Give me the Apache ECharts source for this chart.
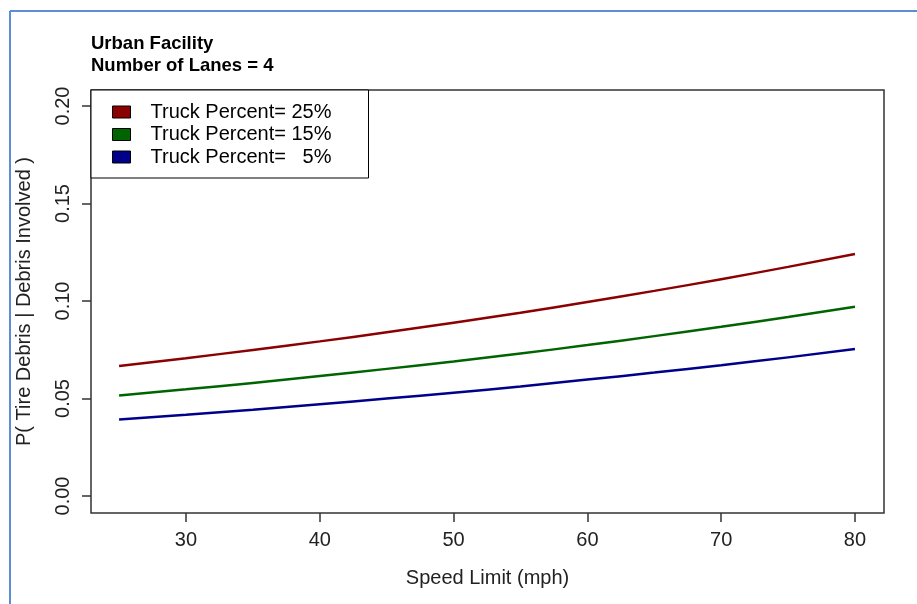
<!DOCTYPE html>
<html>
<head>
<meta charset="utf-8">
<script src="https://cdn.jsdelivr.net/npm/echarts@6/dist/echarts.min.js"></script>
<style>
html,body{margin:0;padding:0;background:#fff;}
#chart{width:917px;height:604px;}
</style>
</head>
<body>
<div id="chart"></div>
<script>
const speeds = [25, 30, 35, 40, 45, 50, 55, 60, 65, 70, 75, 80];
const truck25 = [0.0667, 0.0707, 0.0749, 0.0793, 0.0840, 0.0889, 0.0940, 0.0995, 0.1052, 0.1112, 0.1175, 0.1241];
const truck15 = [0.0516, 0.0547, 0.0580, 0.0615, 0.0652, 0.0690, 0.0731, 0.0774, 0.0820, 0.0868, 0.0918, 0.0971];
const truck5  = [0.0393, 0.0417, 0.0443, 0.0471, 0.0500, 0.0530, 0.0562, 0.0597, 0.0633, 0.0671, 0.0711, 0.0754];
const seriesNames = ['Truck Percent= 25%', 'Truck Percent= 15%', 'Truck Percent=   5%'];
const xTicks = [30, 40, 50, 60, 70, 80];
const yTicks = [0, 0.05, 0.10, 0.15, 0.20];
const titleLines = ['Urban Facility', 'Number of Lanes = 4'];
const xTitle = 'Speed Limit (mph)';
const yTitle = 'P( Tire Debris | Debris Involved )';

const colors = ['#8B0000', '#006400', '#00008B'];
const font = 'Arial, "Liberation Sans", sans-serif';
const pair = (ys) => speeds.map((s, i) => [s, ys[i]]);

const chart = echarts.init(document.getElementById('chart'));
chart.setOption({
  animation: false,
  backgroundColor: '#fff',
  title: {
    text: titleLines.join('\n'),
    left: 91, top: 33, padding: 0,
    textStyle: { fontFamily: font, fontSize: 18.5, fontWeight: 'bold', color: '#000', lineHeight: 22 }
  },
  graphic: [
    { type: 'line', shape: { x1: 10, y1: 11, x2: 917, y2: 11 }, style: { stroke: '#5b8fd4', lineWidth: 2 }, z: 100 },
    { type: 'line', shape: { x1: 10, y1: 11, x2: 10, y2: 604 }, style: { stroke: '#5b8fd4', lineWidth: 2 }, z: 100 }
  ],
  legend: {
    orient: 'vertical',
    left: 91, top: 90,
    padding: [12, 37, 11, 21],
    itemGap: 2.5,
    itemWidth: 18, itemHeight: 12,
    icon: 'rect',
    backgroundColor: '#fff',
    borderColor: '#000', borderWidth: 1, borderRadius: 0,
    itemStyle: { borderColor: '#000', borderWidth: 1 },
    textStyle: { fontFamily: font, fontSize: 20, color: '#000', lineHeight: 20, padding: [0, 0, 0, 15] },
    data: seriesNames
  },
  grid: {
    left: 91, top: 90, right: 33, bottom: 91,
    show: true, borderColor: '#333', borderWidth: 1.5, backgroundColor: 'transparent'
  },
  xAxis: {
    type: 'value', min: 22.9, max: 82.17,
    axisLine: { show: false, onZero: false },
    splitLine: { show: false },
    axisTick: { show: true, length: 9, lineStyle: { color: '#333', width: 1.5 }, customValues: xTicks },
    axisLabel: { customValues: xTicks, margin: 17, fontFamily: font, fontSize: 20, color: '#222' },
    name: xTitle, nameLocation: 'middle', nameGap: 55,
    nameTextStyle: { fontFamily: font, fontSize: 20, color: '#222' }
  },
  yAxis: {
    type: 'value', min: -0.0087, max: 0.2082,
    axisLine: { show: false, onZero: false },
    splitLine: { show: false },
    axisTick: { show: true, length: 9, lineStyle: { color: '#333', width: 1.5 }, customValues: yTicks },
    axisLabel: { customValues: yTicks, rotate: 90, margin: 18, fontFamily: font, fontSize: 20, color: '#222',
      formatter: (v) => v.toFixed(2) },
    name: yTitle, nameLocation: 'middle', nameGap: 57,
    nameTextStyle: { fontFamily: font, fontSize: 20, color: '#222' }
  },
  series: [
    { name: seriesNames[0], type: 'line', data: pair(truck25), showSymbol: false, smooth: true,
      lineStyle: { color: colors[0], width: 2.5 }, itemStyle: { color: colors[0] } },
    { name: seriesNames[1], type: 'line', data: pair(truck15), showSymbol: false, smooth: true,
      lineStyle: { color: colors[1], width: 2.5 }, itemStyle: { color: colors[1] } },
    { name: seriesNames[2], type: 'line', data: pair(truck5), showSymbol: false, smooth: true,
      lineStyle: { color: colors[2], width: 2.5 }, itemStyle: { color: colors[2] } }
  ]
});
</script>
</body>
</html>
